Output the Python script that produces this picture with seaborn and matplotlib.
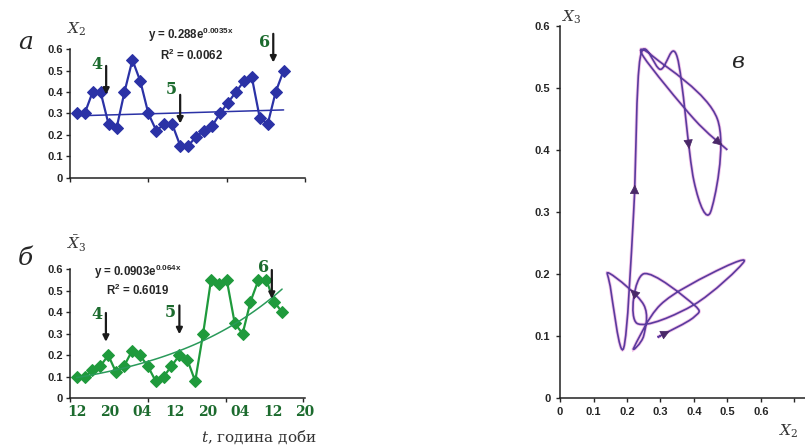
import numpy as np
import matplotlib
matplotlib.use('Agg')
import matplotlib.pyplot as plt
from matplotlib.path import Path
from matplotlib.patches import PathPatch
import seaborn as sns

# readings every 2 hours, numbered like the excel categories
step_no = list(range(1, 28))
x2_values = [0.30, 0.30, 0.40, 0.40, 0.25, 0.23, 0.40, 0.55, 0.45, 0.30, 0.22, 0.25, 0.25, 0.15,
             0.15, 0.19, 0.22, 0.24, 0.30, 0.35, 0.40, 0.45, 0.47, 0.28, 0.25, 0.40, 0.50]
x3_values = [0.10, 0.10, 0.13, 0.15, 0.20, 0.12, 0.15, 0.22, 0.20, 0.15, 0.08, 0.10, 0.15, 0.20,
             0.18, 0.08, 0.30, 0.55, 0.53, 0.55, 0.35, 0.30, 0.45, 0.55, 0.55, 0.45, 0.40]

# exponential trend lines printed on the chart
trend_a = (0.288, 0.0035)
trend_b = (0.0903, 0.064)

hour_labels = ['12', '20', '04', '12', '20', '04', '12', '20']
y_ticks = [0, 0.1, 0.2, 0.3, 0.4, 0.5, 0.6]
x2_ticks = [0, 0.1, 0.2, 0.3, 0.4, 0.5, 0.6, 0.7]

# marked moments 4, 5, 6 (category number)
marks = ['4', '5', '6']
mark_steps = [4.7, 14.0, 25.7]

# segments of the phase path that carry an arrow, and where on the segment
arrow_segments = [1, 12, 16, 19, 25]
arrow_pos = [0.3, 0.4, 0.15, 0.7, 0.75]

blue = '#2b32a6'
green = '#1f9a3c'
mark_green = '#1c6b2e'
purple = '#5a3b9e'

sns.set_theme(style='white')
plt.rcParams['font.family'] = ['Liberation Sans', 'DejaVu Sans']
plt.rcParams['mathtext.fontset'] = 'dejavuserif'

fig = plt.figure(figsize=(8.05, 4.46), dpi=100)
ax_a = fig.add_axes([0.087, 0.6016, 0.292, 0.288])
ax_b = fig.add_axes([0.087, 0.107, 0.292, 0.289])
ax_c = fig.add_axes([0.6957, 0.1083, 0.3043, 0.8334])

xmin, xmax = 0.16, 29.7


def style_time_axis(ax):
    ax.set_xlim(xmin, xmax)
    ax.set_ylim(0, 0.6)
    ax.set_yticks(y_ticks)
    ax.set_yticklabels(['0' if v == 0 else f'{v:.1f}' for v in y_ticks],
                       fontsize=8, fontweight='bold')
    ax.set_xticks(np.linspace(xmin, xmax, 4), minor=True)
    ax.tick_params(axis='x', which='minor', length=3, width=1, direction='out', bottom=True)
    ax.tick_params(axis='y', length=3, width=1, direction='out', left=True, pad=2)
    for s in ['top', 'right']:
        ax.spines[s].set_visible(False)
    for s in ['left', 'bottom']:
        ax.spines[s].set_color('#222222')
        ax.spines[s].set_linewidth(1.1)
    ax.set_xlabel('')
    ax.set_ylabel('')
    ax.set_facecolor('none')


def mark_arrows(ax, tops, label_y):
    for lab, s, top, ly in zip(marks, mark_steps, tops, label_y):
        ax.annotate('', xy=(s, top - 0.16), xytext=(s, top),
                    arrowprops=dict(arrowstyle='-|>', color='#1a1a1a', lw=1.6,
                                    mutation_scale=9), annotation_clip=False)
        ax.text(s - 1.1, ly, lab, color=mark_green, fontsize=11.5, fontweight='bold',
                family='DejaVu Serif', ha='center', va='center', clip_on=False)


# panel a
sns.lineplot(x=step_no, y=x2_values, ax=ax_a, color=blue, marker='D', markersize=6.3,
             markeredgecolor=blue, linewidth=1.6)
tx = np.linspace(1, 27, 100)
ax_a.plot(tx, trend_a[0] * np.exp(trend_a[1] * tx), color=blue, lw=1.1)
style_time_axis(ax_a)
ax_a.set_xticks([])
mark_arrows(ax_a, [0.535, 0.40, 0.685], [0.53, 0.41, 0.63])
ax_a.text(15.4, 0.665, r'y = 0.288e$^{\mathregular{0.0035x}}$', fontsize=8.3, fontweight='bold',
          ha='center', va='center', clip_on=False)
ax_a.text(15.4, 0.57, r'R$^{\mathregular{2}}$ = 0.0062', fontsize=8.3, fontweight='bold',
          ha='center', va='center')

# panel b
sns.lineplot(x=step_no, y=x3_values, ax=ax_b, color=green, marker='D', markersize=6.3,
             markeredgecolor=green, linewidth=1.6)
ax_b.plot(tx, trend_b[0] * np.exp(trend_b[1] * tx), color='#2a9a5a', lw=1.1)
style_time_axis(ax_b)
ax_b.set_xticks([1 + 4.13 * k for k in range(len(hour_labels))])
ax_b.set_xticklabels(hour_labels, color=mark_green, fontsize=10, fontweight='bold',
                     family='DejaVu Serif')
ax_b.tick_params(axis='x', which='major', length=0, pad=5)
mark_arrows(ax_b, [0.41, 0.445, 0.61], [0.39, 0.40, 0.61])
ax_b.text(8.7, 0.59, r'y = 0.0903e$^{\mathregular{0.064x}}$', fontsize=8.3, fontweight='bold',
          ha='center', va='center')
ax_b.text(8.7, 0.50, r'R$^{\mathregular{2}}$ = 0.6019', fontsize=8.3, fontweight='bold',
          ha='center', va='center')

# panel c: phase path drawn as excel-like smooth bezier curve
pts = np.column_stack([x2_values, x3_values])
n = len(pts)
verts = [pts[0]]
codes = [Path.MOVETO]
ctrl = []
for i in range(n - 1):
    p_prev = pts[max(i - 1, 0)]
    p0, p1 = pts[i], pts[i + 1]
    p_next = pts[min(i + 2, n - 1)]
    c1 = p0 + (p1 - p_prev) / 6
    c2 = p1 - (p_next - p0) / 6
    ctrl.append((p0, c1, c2, p1))
    verts += [c1, c2, p1]
    codes += [Path.CURVE4] * 3
path = Path(verts, codes)
ax_c.add_patch(PathPatch(path, fc='none', ec='#e27bd0', lw=2.4, alpha=0.45))
ax_c.add_patch(PathPatch(path, fc='none', ec=purple, lw=1.2))


def bez(seg, t):
    p0, c1, c2, p1 = seg
    pt = (1 - t) ** 3 * p0 + 3 * (1 - t) ** 2 * t * c1 + 3 * (1 - t) * t ** 2 * c2 + t ** 3 * p1
    return pt


for seg_i, t in zip(arrow_segments, arrow_pos):
    a = bez(ctrl[seg_i], t - 0.02)
    b = bez(ctrl[seg_i], t + 0.02)
    ax_c.annotate('', xy=b, xytext=a,
                  arrowprops=dict(arrowstyle='-|>', color='#4a2868', lw=0.5,
                                  mutation_scale=15, shrinkA=0, shrinkB=0))

ax_c.set_xlim(0, 0.732)
ax_c.set_ylim(0, 0.6)
ax_c.set_xticks(x2_ticks)
ax_c.set_xticklabels(['0' if v == 0 else ('' if v > 0.65 else f'{v:.1f}') for v in x2_ticks],
                     fontsize=8, fontweight='bold')
ax_c.set_yticks(y_ticks)
ax_c.set_yticklabels(['0' if v == 0 else f'{v:.1f}' for v in y_ticks],
                     fontsize=8, fontweight='bold')
ax_c.tick_params(axis='both', length=3, width=1, direction='out', bottom=True, left=True, pad=4)
for s in ['top', 'right']:
    ax_c.spines[s].set_visible(False)
for s in ['left', 'bottom']:
    ax_c.spines[s].set_color('#222222')
    ax_c.spines[s].set_linewidth(1.1)
ax_c.set_facecolor('none')

# panel letters and axis names
fig.text(0.022, 0.905, 'a', fontsize=18, style='italic', family='DejaVu Serif', va='center')
fig.text(0.022, 0.42, 'б', fontsize=18, style='italic', family='DejaVu Serif', va='center')
fig.text(0.908, 0.862, 'в', fontsize=16, style='italic', family='DejaVu Serif', va='center')
fig.text(0.083, 0.935, r'$X_2$', fontsize=11, color='#333333', va='center')
fig.text(0.083, 0.452, r'$\bar{X}_3$', fontsize=11, color='#333333', va='center')
fig.text(0.698, 0.962, r'$X_3$', fontsize=11, color='#333333', va='center')
fig.text(0.968, 0.033, r'$X_2$', fontsize=11, color='#333333', va='center')
fig.text(0.394, 0.02, r'$t$, година доби', fontsize=11, family='DejaVu Serif',
         color='#333333', ha='right', va='center')

fig.savefig('out.png', dpi=100)
